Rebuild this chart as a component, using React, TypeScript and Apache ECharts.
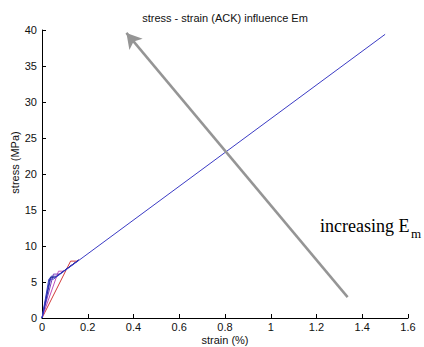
import React, { useEffect, useRef } from "react";
import * as echarts from "echarts";

// ---- data (strain in %, stress in MPa) ----
const redStrain = [0, 0.125, 0.154, 0.16];
const redStress = [0, 7.9, 7.9, 8.04];
const pinkStrain = [0, 0.072, 0.094, 0.16];
const pinkStress = [0, 6.5, 6.5, 8.04];
const purpleStrain = [0, 0.05, 0.077, 0.16];
const purpleStress = [0, 6.1, 6.1, 8.04];
const blue1Strain = [0, 0.04, 0.064, 0.16];
const blue1Stress = [0, 5.8, 5.8, 8.04];
const blue2Strain = [0, 0.035, 0.056, 0.16];
const blue2Stress = [0, 5.6, 5.6, 8.04];
const blue3Strain = [0, 0.03, 0.05, 1.5];
const blue3Stress = [0, 5.4, 5.4, 39.4];

const arrowFrom = [1.336, 2.9];
const arrowTo = [0.369, 39.6];

const xTicks = [0, 0.2, 0.4, 0.6, 0.8, 1, 1.2, 1.4, 1.6];
const yTicks = [0, 5, 10, 15, 20, 25, 30, 35, 40];

const SANS = "'Liberation Sans', Arial, sans-serif";
const SERIF = "'Liberation Serif', 'Times New Roman', serif";

const curves = [
  { name: "red", color: "#d23a3a", x: redStrain, y: redStress },
  { name: "pink", color: "#c24fb8", x: pinkStrain, y: pinkStress },
  { name: "purple", color: "#7a3fc0", x: purpleStrain, y: purpleStress },
  { name: "blue1", color: "#2a2aa8", x: blue1Strain, y: blue1Stress },
  { name: "blue2", color: "#1c2c9a", x: blue2Strain, y: blue2Stress },
  { name: "blue3", color: "#3b3bc4", x: blue3Strain, y: blue3Stress },
];

export default function App() {
  const ref = useRef<HTMLDivElement>(null);
  useEffect(() => {
    if (!ref.current) return;
    const chart = echarts.init(ref.current, null, { renderer: "svg" });
    const fmt = (v: number) => {
      const r = Math.round(v * 10) / 10;
      return String(r);
    };
    chart.setOption({
      animation: false,
      backgroundColor: "#ffffff",
      grid: { left: 42, right: 16, top: 30, bottom: 29, containLabel: false },
      xAxis: {
        type: "value",
        min: xTicks[0],
        max: xTicks[xTicks.length - 1],
        interval: 0.2,
        axisLine: { show: true, lineStyle: { color: "#000", width: 1 } },
        axisTick: { show: true, inside: true, length: 4, lineStyle: { color: "#000" } },
        axisLabel: { color: "#111", fontSize: 11, fontFamily: SANS, margin: 3, formatter: fmt },
        splitLine: { show: false },
      },
      yAxis: {
        type: "value",
        min: yTicks[0],
        max: yTicks[yTicks.length - 1],
        interval: 5,
        axisLine: { show: true, lineStyle: { color: "#000", width: 1 } },
        axisTick: { show: true, inside: true, length: 4, lineStyle: { color: "#000" } },
        axisLabel: { color: "#111", fontSize: 11, fontFamily: SANS, margin: 5 },
        splitLine: { show: false },
      },
      series: [
        ...curves.map((c) => ({
          name: c.name,
          type: "line",
          data: c.x.map((v, i) => [v, c.y[i]]),
          showSymbol: false,
          symbol: "none",
          lineStyle: { color: c.color, width: 1 },
          silent: true,
        })),
        {
          name: "arrow",
          type: "line",
          data: [],
          silent: true,
          markLine: {
            silent: true,
            symbol: ["none", "arrow"],
            symbolSize: [13, 15],
            label: { show: false },
            lineStyle: { color: "#959595", width: 2.5, type: "solid" },
            emphasis: { disabled: true },
            data: [[{ coord: arrowFrom }, { coord: arrowTo }]],
          },
        },
      ],
      graphic: [
        {
          type: "text",
          x: 225,
          y: 18,
          style: {
            text: "stress - strain (ACK) influence Em",
            font: `11px ${SANS}`,
            fill: "#111",
            align: "center",
            verticalAlign: "middle",
          },
        },
        {
          type: "text",
          x: 225,
          y: 340,
          style: {
            text: "strain (%)",
            font: `11px ${SANS}`,
            fill: "#111",
            align: "center",
            verticalAlign: "middle",
          },
        },
        {
          type: "text",
          x: 15,
          y: 162.5,
          rotation: Math.PI / 2,
          style: {
            text: "stress (MPa)",
            font: `11px ${SANS}`,
            fill: "#111",
            align: "center",
            verticalAlign: "middle",
          },
        },
        {
          type: "text",
          x: 320,
          y: 226,
          style: {
            text: "increasing E",
            font: `18px ${SERIF}`,
            fill: "#000",
            align: "left",
            verticalAlign: "middle",
          },
        },
        {
          type: "text",
          x: 411,
          y: 233.5,
          style: {
            text: "m",
            font: `13px ${SERIF}`,
            fill: "#000",
            align: "left",
            verticalAlign: "middle",
          },
        },
      ],
    });
    return () => chart.dispose();
  }, []);
  return <div ref={ref} style={{ width: 424, height: 347, position: "absolute", left: 0, top: 0 }} />;
}
